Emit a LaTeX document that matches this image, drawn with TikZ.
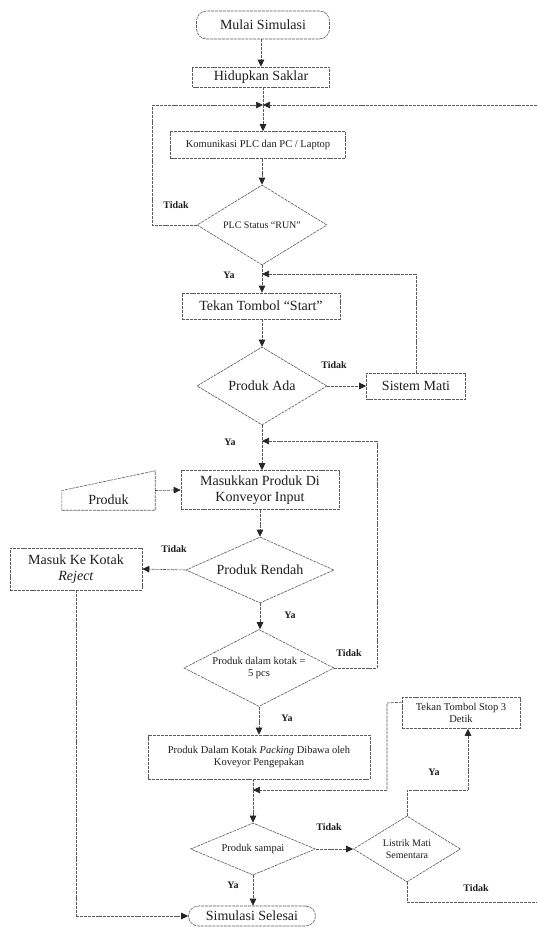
\documentclass[tikz,border=0pt]{standalone}
\usepackage{fontspec}
\setmainfont{Liberation Serif}
\usetikzlibrary{shapes.geometric,arrows.meta,calc}
\definecolor{lncol}{HTML}{5A5A5A}
\definecolor{txcol}{HTML}{1E1E1E}
\tikzset{
 conn/.style={draw=lncol, line width=0.6pt, dash pattern=on 3pt off 0.9pt},
 arr/.style={conn, -{Triangle[length=7pt,width=6.5pt,color=black!85]}},
 box/.style={conn, rectangle, inner sep=1pt, align=center, text=txcol},
 term/.style={box, rounded corners=10pt},
 dia/.style={conn, diamond, inner sep=0pt, align=center, text=txcol},
 big/.style={font=\fontsize{14}{15.5}\selectfont},
 sml/.style={font=\fontsize{10.5}{12.5}\selectfont},
 lab/.style={font=\bfseries\fontsize{10}{12}\selectfont, text=txcol, inner sep=0pt},
}
\begin{document}
\begin{tikzpicture}[x=1pt,y=-1pt]
\useasboundingbox[fill=white] (0,0) rectangle (537,927);
% nodes
\node[term,big,minimum width=133pt,minimum height=28pt] (start) at (263,25) {Mulai Simulasi};
\node[box,big,minimum width=137pt,minimum height=20pt] (hid) at (261,77) {Hidupkan Saklar};
\coordinate (j1) at (263,105);
\node[box,sml,minimum width=175pt,minimum height=27pt] (kom) at (258,145) {Komunikasi PLC dan PC / Laptop};
\node[dia,aspect=1.62,minimum width=130pt,minimum height=80pt,font=\fontsize{10}{12}\selectfont] (plc) at (262,225) {PLC Status ``RUN''};
\coordinate (j2) at (262,274);
\node[box,big,minimum width=158pt,minimum height=26pt] (tekan) at (261,306) {Tekan Tombol ``Start''};
\node[dia,big,aspect=1.67,minimum width=130pt,minimum height=78pt] (ada) at (262,386) {Produk Ada};
\node[box,big,minimum width=99pt,minimum height=26pt] (mati) at (416,386) {Sistem Mati};
\coordinate (j3) at (262,441);
\node[box,big,minimum width=158pt,minimum height=39pt] (masuk) at (260,490) {Masukkan Produk Di\\Konveyor Input};
\node[minimum width=93pt,minimum height=39pt,inner sep=0pt] (prod) at (108.5,490.5) {};
\node[big,text=txcol,inner sep=0pt] (prodtxt) at (108.5,500) {Produk};
\node[dia,big,aspect=2.24,minimum width=148pt,minimum height=66pt] (rendah) at (260,570) {Produk Rendah};
\node[box,big,minimum width=132pt,minimum height=42pt] (reject) at (76,569) {Masuk Ke Kotak\\\textit{Reject}};
\node[dia,sml,aspect=1.95,minimum width=150pt,minimum height=77pt] (kotak) at (259,668) {Produk dalam kotak =\\5 pcs};
\node[box,sml,minimum width=222pt,minimum height=44pt] (dalam) at (259,757) {Produk Dalam Kotak \textit{Packing} Dibawa oleh\\Koveyor Pengepakan};
\node[box,sml,minimum width=118pt,minimum height=31pt] (stop) at (461,713) {Tekan Tombol Stop 3\\Detik};
\coordinate (j4) at (253,790);
\node[dia,sml,aspect=2.4,minimum width=125pt,minimum height=52pt] (sampai) at (253,849) {Produk sampai};
\node[dia,aspect=1.62,minimum width=107pt,minimum height=66pt,font=\fontsize{10}{12}\selectfont] (listrik) at (407,849) {Listrik Mati\\Sementara};
\node[term,big,minimum width=127pt,minimum height=20pt] (selesai) at (252,916) {Simulasi Selesai};
% helper coordinates
\coordinate (lt1) at (152,225);
\coordinate (lt2) at (152,105);
\coordinate (redge1) at (537,105);
\coordinate (mt) at (416,274);
\coordinate (rk1) at (377,668);
\coordinate (rk2) at (377,441);
\coordinate (st1) at (387,703);
\coordinate (st2) at (387,790);
\coordinate (ls1) at (407,790);
\coordinate (ls2) at (468,790);
\coordinate (lb1) at (407,902);
\coordinate (redge2) at (537,902);
\coordinate (rj1) at (76,916);
% manual input shape
\draw[conn] (prod.south west) -- (prod.south east) -- (prod.north east) -- (prod.west) -- cycle;
% connectors
\draw[arr] (start.south -| hid.north) -- (hid.north);
\draw[conn] (hid.south -| j1) -- (j1);
\draw[arr] (lt2) -- (j1);
\draw[arr] (redge1) -- (j1);
\draw[arr] (j1) -- (j1 |- kom.north);
\draw[arr] (kom.south -| plc.north) -- (plc.north);
\draw[conn] (plc.west) -- (lt1) -- (lt2);
\draw[conn] (plc.south) -- (j2);
\draw[conn] (mati.north) -- (mt);
\draw[arr] (mt) -- (j2);
\draw[arr] (j2) -- (j2 |- tekan.north);
\draw[arr] (tekan.south -| ada.north) -- (ada.north);
\draw[arr] (ada.east) -- (mati.west);
\draw[conn] (ada.south) -- (j3);
\draw[arr] (j3) -- (j3 |- masuk.north);
\draw[arr] (prod.east) -- (masuk.west);
\draw[arr] (masuk.south -| rendah.north) -- (rendah.north);
\draw[arr] (rendah.west) -- (reject.east);
\draw[arr] (rendah.south) -- (rendah.south |- kotak.north);
\draw[conn] (kotak.east) -- (rk1) -- (rk2);
\draw[arr] (rk2) -- (j3);
\draw[arr] (kotak.south) -- (kotak.south |- dalam.north);
\draw[conn] (dalam.south -| j4) -- (j4);
\draw[conn] ($(stop.north west)+(0,5)$) -- (st1) -- (st2);
\draw[arr] (st2) -- (j4);
\draw[arr] (j4) -- (sampai.north);
\draw[arr] (sampai.east) -- (listrik.west);
\draw[conn] (listrik.north) -- (ls1) -- (ls2);
\draw[arr] (ls2) -- (ls2 |- stop.south);
\draw[conn] (listrik.south) -- (lb1) -- (redge2);
\draw[arr] (sampai.south) -- (sampai.south |- selesai.north);
\draw[conn] (reject.south) -- (rj1);
\draw[arr] (rj1) -- (selesai.west);
% labels
\node[lab] (l1) at (176,205) {Tidak};
\node[lab] (l2) at (229,275) {Ya};
\node[lab] (l3) at (334,365) {Tidak};
\node[lab] (l4) at (230,442) {Ya};
\node[lab] (l5) at (174,549) {Tidak};
\node[lab] (l6) at (290,615) {Ya};
\node[lab] (l7) at (349,653) {Tidak};
\node[lab] (l8) at (287,718) {Ya};
\node[lab] (l9) at (434,772) {Ya};
\node[lab] (l10) at (329,827) {Tidak};
\node[lab] (l11) at (476,888) {Tidak};
\node[lab] (l12) at (233,885) {Ya};
\end{tikzpicture}
\end{document}
